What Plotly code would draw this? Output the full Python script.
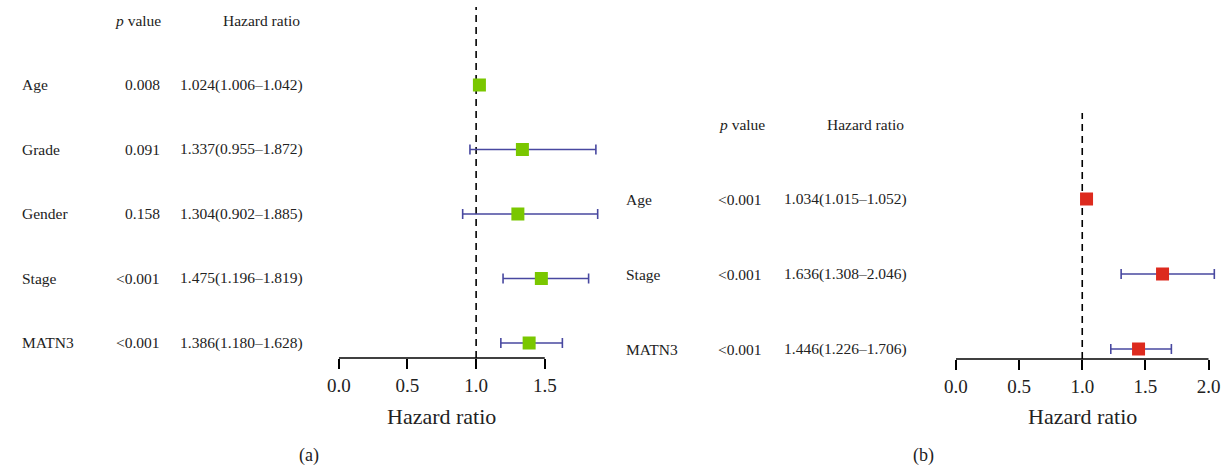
import plotly.graph_objects as go

# ---------------- data ----------------
vars_a = ["Age", "Grade", "Gender", "Stage", "MATN3"]
p_a = ["0.008", "0.091", "0.158", "<0.001", "<0.001"]
hr_a = [1.024, 1.337, 1.304, 1.475, 1.386]
lo_a = [1.006, 0.955, 0.902, 1.196, 1.180]
hi_a = [1.042, 1.872, 1.885, 1.819, 1.628]
ticks_a = [0.0, 0.5, 1.0, 1.5]

vars_b = ["Age", "Stage", "MATN3"]
p_b = ["<0.001", "<0.001", "<0.001"]
hr_b = [1.034, 1.636, 1.446]
lo_b = [1.015, 1.308, 1.226]
hi_b = [1.052, 2.046, 1.706]
ticks_b = [0.0, 0.5, 1.0, 1.5, 2.0]

W, H = 1229, 465
FONT = "Liberation Serif"
ERR = "rgb(72,72,160)"

fig = go.Figure()


def px_x(p):
    return p / W


def px_y(p):
    return (H - p) / H


def panel(vars_, p_, hr, lo, hi, xa, ya, color, lab_x, p_x, hr_x, hdr_p_x, hdr_hr_x):
    n = len(vars_)
    ys = [n - i for i in range(n)]
    fig.add_trace(go.Scatter(
        x=hr, y=ys, mode="markers", xaxis=xa, yaxis=ya,
        marker=dict(symbol="square", size=13, color=color, line=dict(width=0)),
        error_x=dict(type="data", symmetric=False,
                     array=[h - m for h, m in zip(hi, hr)],
                     arrayminus=[m - l for m, l in zip(hr, lo)],
                     color=ERR, thickness=1.6, width=5),
        showlegend=False, hoverinfo="skip"))
    anns = []
    for i in range(n):
        anns.append(dict(x=px_x(lab_x), y=ys[i], xref="paper", yref=ya, text=vars_[i],
                         xanchor="left", yanchor="middle", showarrow=False))
        anns.append(dict(x=px_x(p_x), y=ys[i], xref="paper", yref=ya, text=p_[i],
                         xanchor="right", yanchor="middle", showarrow=False))
        anns.append(dict(x=px_x(hr_x), y=ys[i], xref="paper", yref=ya,
                         text=f"{hr[i]:.3f}({lo[i]:.3f}\u2013{hi[i]:.3f})",
                         xanchor="right", yanchor="middle", showarrow=False))
    anns.append(dict(x=px_x(hdr_p_x), y=n + 1, xref="paper", yref=ya, text="<i>p</i> value",
                     xanchor="right", yanchor="middle", showarrow=False))
    anns.append(dict(x=px_x(hdr_hr_x), y=n + 1, xref="paper", yref=ya, text="Hazard ratio",
                     xanchor="right", yanchor="middle", showarrow=False))
    for a in anns:
        a["font"] = dict(family=FONT, size=15.5, color="#222")
        fig.add_annotation(**a)


panel(vars_a, p_a, hr_a, lo_a, hi_a, "x", "y", "rgb(122,199,0)",
      8, 151, 296, 152, 293)
panel(vars_b, p_b, hr_b, lo_b, hi_b, "x2", "y2", "rgb(221,42,30)",
      618, 759, 906, 762, 903)

axis_common = dict(showgrid=False, zeroline=False, showline=False, ticks="outside",
                   ticklen=10, tickwidth=1.5, tickcolor="black",
                   tickfont=dict(family=FONT, size=19, color="#222"),
                   tickformat=".1f", fixedrange=True)

# panel a: 0 at px 330, 138.7 px per unit
sa = 138.7
fig.update_layout(
    xaxis=dict(domain=[px_x(330), px_x(330 + 1.95 * sa)], range=[0, 1.95],
               tickvals=ticks_a, anchor="y", **axis_common),
    yaxis=dict(domain=[px_y(358), px_y(7)], range=[0.767, 6.209], visible=False,
               anchor="x"),
)
sb = 127.5
fig.update_layout(
    xaxis2=dict(domain=[px_x(953.3), px_x(953.3 + 2.15 * sb)], range=[0, 2.15],
                tickvals=ticks_b, anchor="y2", **axis_common),
    yaxis2=dict(domain=[px_y(359), px_y(113)], range=[0.867, 4.147], visible=False,
                anchor="x2"),
)

# axis lines, reference lines
for xr, yr, ticks in (("x", "y", ticks_a), ("x2", "y2", ticks_b)):
    fig.add_shape(type="line", xref=xr, yref=f"{yr} domain", x0=ticks[0], x1=ticks[-1],
                  y0=0, y1=0, line=dict(color="black", width=1.5))
    fig.add_shape(type="line", xref=xr, yref=f"{yr} domain", x0=1, x1=1, y0=0, y1=1,
                  line=dict(color="black", width=1.6, dash="7px,5px"), layer="below")
    fig.add_annotation(x=(ticks[0] + ticks[-1]) / 2, y=px_y(416), xref=xr, yref="paper",
                       text="Hazard ratio", showarrow=False, xanchor="center", yanchor="middle",
                       font=dict(family=FONT, size=22, color="#222"))

fig.add_annotation(x=px_x(300), y=px_y(455), xref="paper", yref="paper", text="(a)",
                   showarrow=False, xanchor="center", yanchor="middle",
                   font=dict(family=FONT, size=18, color="#222"))
fig.add_annotation(x=px_x(920), y=px_y(455), xref="paper", yref="paper", text="(b)",
                   showarrow=False, xanchor="center", yanchor="middle",
                   font=dict(family=FONT, size=18, color="#222"))

fig.update_layout(width=W, height=H, margin=dict(l=0, r=0, t=0, b=0),
                  paper_bgcolor="white", plot_bgcolor="white")

fig.write_html("out.html", config={"displayModeBar": False},
               post_script="document.body.style.margin='0';document.body.style.overflow='hidden';")
